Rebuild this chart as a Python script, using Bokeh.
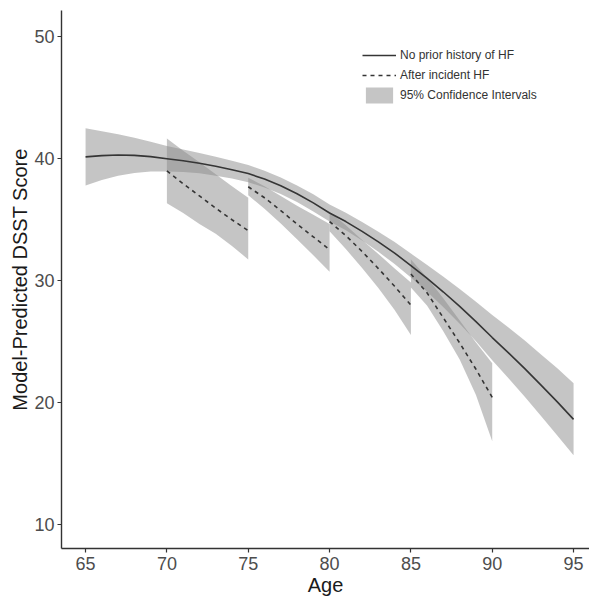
from bokeh.plotting import figure
from bokeh.models import Legend, LegendItem, Range1d, FixedTicker
from bokeh.embed import file_html
from bokeh.resources import INLINE

# ---- data ----
main_age = [65, 66, 67, 68, 69, 70, 71, 72, 73, 74, 75, 76, 77, 78, 79, 80,
            81, 82, 83, 84, 85, 86, 87, 88, 89, 90, 91, 92, 93, 94, 95]
main_mean = [40.10, 40.20, 40.25, 40.22, 40.12, 39.95, 39.78, 39.58, 39.33, 39.05, 38.73,
             38.28, 37.73, 37.08, 36.33, 35.50, 34.80, 34.00, 33.14, 32.22, 31.20,
             30.15, 29.03, 27.85, 26.61, 25.30, 24.05, 22.75, 21.40, 20.03, 18.60]
main_upper = [42.45, 42.20, 41.95, 41.67, 41.34, 41.00, 40.70, 40.41, 40.10, 39.78, 39.44,
              38.97, 38.41, 37.76, 37.03, 36.20, 35.52, 34.76, 33.96, 33.12, 32.18,
              31.25, 30.28, 29.27, 28.23, 27.15, 26.13, 25.05, 23.92, 22.78, 21.55]
main_lower = [37.75, 38.20, 38.55, 38.77, 38.90, 38.90, 38.86, 38.75, 38.56, 38.32, 38.02,
              37.59, 37.05, 36.40, 35.63, 34.80, 34.08, 33.24, 32.32, 31.32, 30.22,
              29.05, 27.78, 26.43, 24.99, 23.45, 21.97, 20.45, 18.88, 17.28, 15.65]

seg1_age = [70, 71, 72, 73, 74, 75]
seg1_mean = [38.95, 37.90, 36.90, 35.90, 34.95, 34.05]
seg1_upper = [41.60, 40.60, 39.65, 38.68, 37.70, 36.75]
seg1_lower = [36.30, 35.50, 34.60, 33.80, 32.80, 31.70]

seg2_age = [75, 76, 77, 78, 79, 80]
seg2_mean = [37.65, 36.75, 35.70, 34.60, 33.55, 32.50]
seg2_upper = [38.40, 37.70, 36.90, 36.10, 35.35, 34.60]
seg2_lower = [36.95, 35.85, 34.65, 33.35, 32.05, 30.70]

seg3_age = [80, 81, 82, 83, 84, 85]
seg3_mean = [34.80, 33.65, 32.35, 30.95, 29.50, 27.95]
seg3_upper = [35.60, 34.50, 33.30, 32.15, 30.95, 29.80]
seg3_lower = [34.00, 32.55, 31.00, 29.35, 27.55, 25.50]

seg4_age = [85, 86, 87, 88, 89, 90]
seg4_mean = [30.50, 28.95, 26.90, 24.85, 22.70, 20.40]
seg4_upper = [31.70, 30.20, 28.50, 26.70, 24.90, 23.20]
seg4_lower = [29.40, 27.90, 25.80, 23.50, 20.60, 16.80]

x_ticks = [65, 70, 75, 80, 85, 90, 95]
y_ticks = [10, 20, 30, 40, 50]

labels = ["No prior history of HF", "After incident HF", "95% Confidence Intervals"]

FONT = "Liberation Sans"
BAND = "#8c8c8c"
LINE = "#353535"

p = figure(width=589, height=598, output_backend="svg", toolbar_location=None,
           x_range=Range1d(63.52, 95.98), y_range=Range1d(8.02, 52.09),
           min_border_left=61, min_border_right=0, min_border_top=10,
           min_border_bottom=46)
p.outline_line_color = None
p.background_fill_color = "white"
p.border_fill_color = "white"
p.xgrid.visible = False
p.ygrid.visible = False

band_main = p.varea(x=main_age, y1=main_lower, y2=main_upper,
                    fill_color=BAND, fill_alpha=0.5)
segs = [(seg1_age, seg1_mean, seg1_upper, seg1_lower),
        (seg2_age, seg2_mean, seg2_upper, seg2_lower),
        (seg3_age, seg3_mean, seg3_upper, seg3_lower),
        (seg4_age, seg4_mean, seg4_upper, seg4_lower)]
for a, m, u, l in segs:
    p.varea(x=a, y1=l, y2=u, fill_color=BAND, fill_alpha=0.5)

line_main = p.line(main_age, main_mean, line_color=LINE, line_width=1.6)
dashed = []
for a, m, u, l in segs:
    dashed.append(p.line(a, m, line_color=LINE, line_width=1.6, line_dash="4 4"))

for ax in (p.xaxis[0], p.yaxis[0]):
    ax.axis_line_color = "#333333"
    ax.axis_line_width = 1.4
    ax.major_tick_line_color = "#333333"
    ax.major_tick_line_width = 1.2
    ax.major_tick_out = 4
    ax.major_tick_in = 0
    ax.minor_tick_line_color = None
    ax.major_label_text_font = FONT
    ax.major_label_text_font_size = "18px"
    ax.major_label_text_color = "#4d4d4d"
    ax.axis_label_text_font = FONT
    ax.axis_label_text_font_size = "20px"
    ax.axis_label_text_font_style = "normal"
    ax.axis_label_text_color = "#1a1a1a"

p.xaxis[0].ticker = FixedTicker(ticks=x_ticks)
p.yaxis[0].ticker = FixedTicker(ticks=y_ticks)
p.xaxis[0].axis_label = "Age"
p.yaxis[0].axis_label = "Model-Predicted DSST Score"
p.xaxis[0].major_label_standoff = 4
p.xaxis[0].axis_label_standoff = 1
p.yaxis[0].major_label_standoff = 3
p.yaxis[0].axis_label_standoff = 0

legend = Legend(items=[LegendItem(label=labels[0], renderers=[line_main]),
                       LegendItem(label=labels[1], renderers=[dashed[0]]),
                       LegendItem(label=labels[2], renderers=[band_main])],
                location=(301, 443), orientation="vertical",
                glyph_width=34, glyph_height=20, label_height=20,
                label_standoff=4, spacing=0, padding=0, margin=0,
                border_line_color=None, background_fill_alpha=0,
                label_text_font=FONT, label_text_font_size="12px",
                label_text_color="#333333")
p.add_layout(legend, "center")

open("out.html", "w").write(file_html(p, INLINE))
